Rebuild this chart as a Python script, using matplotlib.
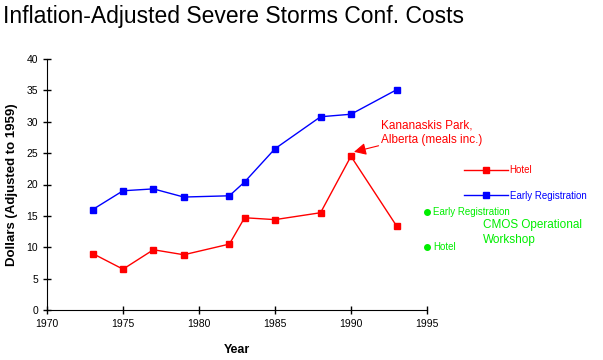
import matplotlib.pyplot as plt

plt.rcParams['font.family'] = ['Liberation Sans', 'DejaVu Sans']

years = [1973, 1975, 1977, 1979, 1982, 1983, 1985, 1988, 1990, 1993]
hotel = [9.0, 6.5, 9.6, 8.8, 10.5, 14.7, 14.4, 15.5, 24.5, 13.4]
early_reg = [16.0, 19.0, 19.3, 18.0, 18.2, 20.4, 25.7, 30.8, 31.2, 35.1]

cmos_year = 1995
cmos_early = 15.6
cmos_hotel = 10.0

fig = plt.figure(figsize=(6.03, 3.6), dpi=100)
ax = fig.add_axes([0.078, 0.139, 0.630, 0.697])

ax.plot(years, hotel, color='red', lw=1, marker='s', ms=5, label='Hotel')
ax.plot(years, early_reg, color='blue', lw=1, marker='s', ms=5, label='Early Registration')
ax.plot([cmos_year], [cmos_early], 'o', color='#00ee00', ms=4, clip_on=False)
ax.plot([cmos_year], [cmos_hotel], 'o', color='#00ee00', ms=4, clip_on=False)

ax.text(cmos_year + 0.4, cmos_early, 'Early Registration', color='#00ee00',
        fontsize=7, va='center', ha='left')
ax.text(cmos_year + 0.4, cmos_hotel, 'Hotel', color='#00ee00',
        fontsize=7, va='center', ha='left')
ax.text(1998.7, 12.35, 'CMOS Operational\nWorkshop', color='#00ee00',
        fontsize=8.5, va='center', ha='left', linespacing=1.3)

ax.annotate('Kananaskis Park,\nAlberta (meals inc.)', xy=(1990.2, 25.2),
            xytext=(1992.0, 28.3), color='red', fontsize=8.5,
            va='center', ha='left', linespacing=1.3,
            arrowprops=dict(arrowstyle='-|>', color='red', lw=0.8,
                            mutation_scale=18, shrinkA=0, shrinkB=0))

ax.set_xlim(1970, 1995)
ax.set_ylim(0, 40)
ax.set_xticks(range(1970, 1996, 5))
ax.set_yticks(range(0, 41, 5))
ax.spines['top'].set_visible(False)
ax.spines['right'].set_visible(False)
ax.tick_params(direction='inout', length=6, width=1, labelsize=7.5)

ax.set_xlabel('Year', fontsize=9, fontweight='bold', labelpad=11)
ax.set_ylabel('Dollars (Adjusted to 1959)', fontsize=9.5, fontweight='bold', labelpad=6)

fig.legend(loc='upper left', bbox_to_anchor=(0.755, 0.566), frameon=False,
           fontsize=7, handlelength=4.5, labelspacing=1.6, handletextpad=0.2,
           labelcolor='linecolor')

fig.text(0.005, 0.955, 'Inflation-Adjusted Severe Storms Conf. Costs',
         fontsize=16.5, va='center', ha='left')

fig.savefig('out.png', dpi=100)
